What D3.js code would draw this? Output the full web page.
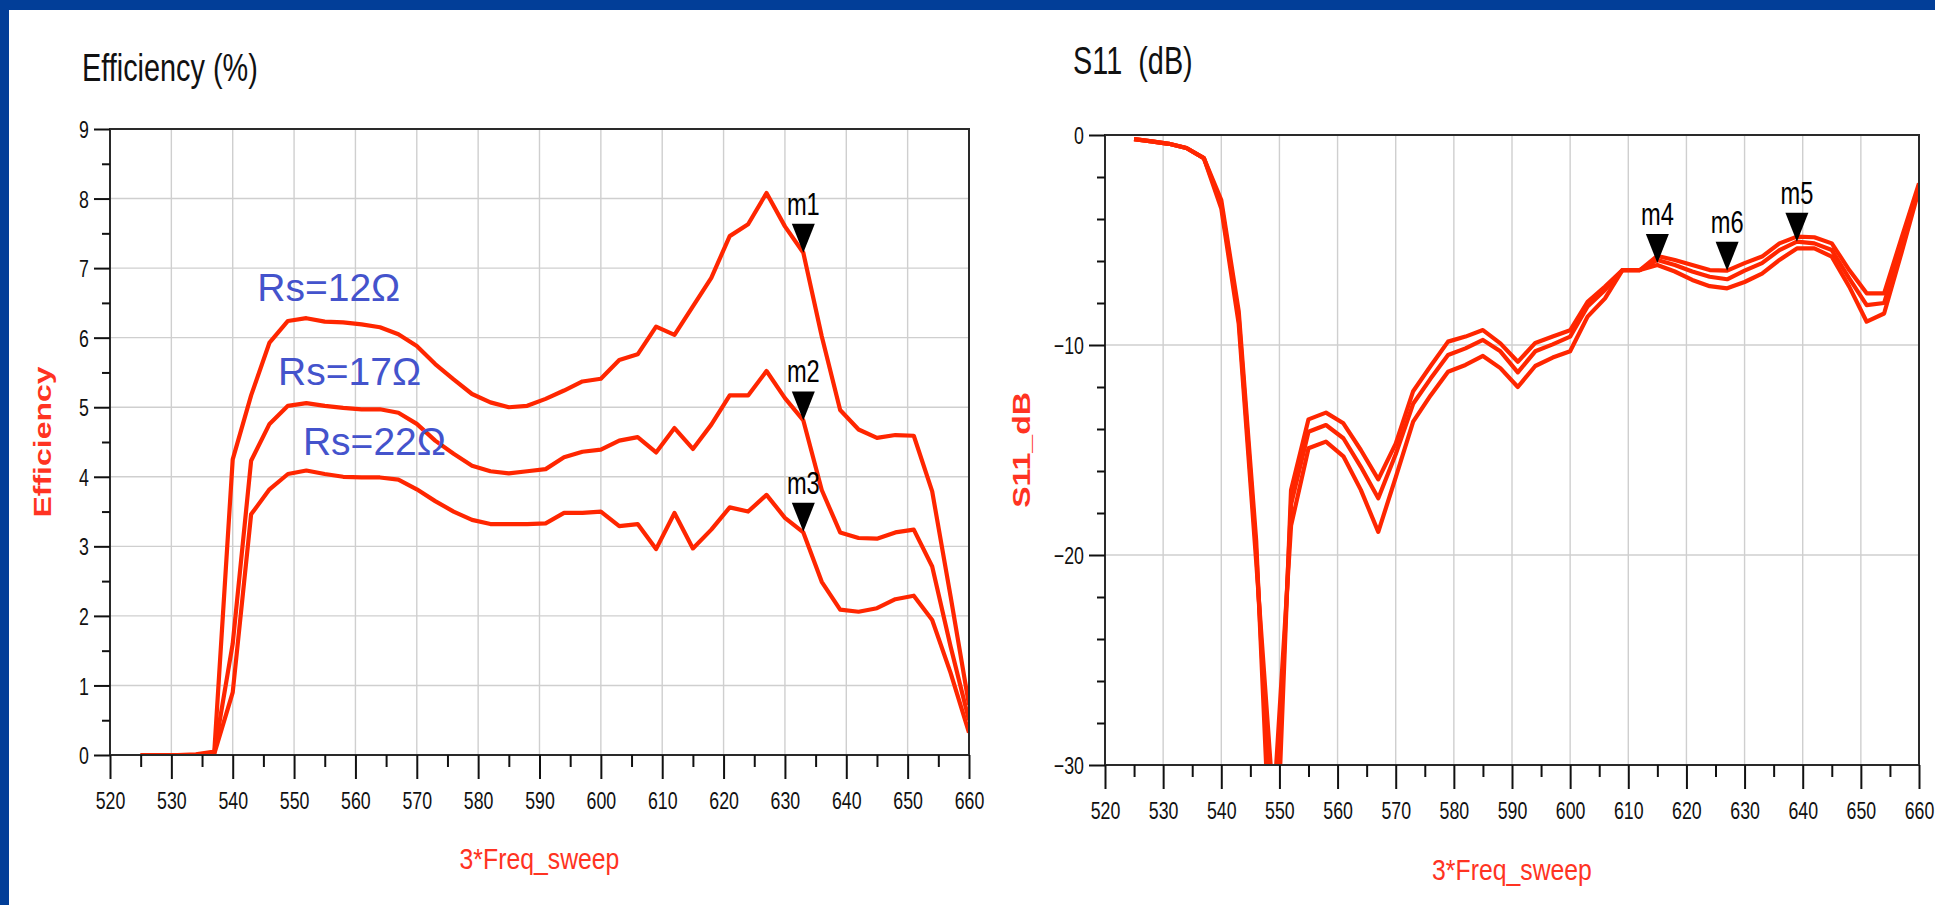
<!DOCTYPE html>
<html><head><meta charset="utf-8">
<script src="https://cdn.jsdelivr.net/npm/d3@7"></script>
<style>
html,body{margin:0;padding:0;background:#fff;overflow:hidden}
svg{display:block}
text{font-family:"Liberation Sans",Arial,Helvetica,sans-serif}
</style></head><body>
<svg id="c" width="1935" height="905"></svg>
<script>
// ---------- DATA ----------
const freqs = [525,528,531,534,537,540,543,546,549,552,555,558,561,564,567,570,573,576,579,582,585,588,591,594,597,600,603,606,609,612,615,618,621,624,627,630,633,636,639,642,645,648,651,654,657,660];

const effRs12 = [0,0,0,0.01,0.05, 4.25,5.17,5.93,6.24,6.28, 6.23,6.22,6.19,6.15,6.05, 5.88,5.62,5.40,5.19,5.07, 5.00,5.02,5.12,5.24,5.37, 5.41,5.68,5.76,6.16,6.04, 6.45,6.86,7.46,7.63,8.08, 7.60,7.22,6.02,4.96,4.68, 4.56,4.60,4.59,3.79,2.28, 0.72];
const effRs17 = [0,0,0,0,0.03, 1.6,4.23,4.76,5.02,5.06, 5.02,4.99,4.97,4.97,4.92, 4.76,4.52,4.33,4.16,4.08, 4.05,4.08,4.11,4.28,4.36, 4.39,4.52,4.57,4.35,4.70, 4.40,4.75,5.17,5.17,5.52, 5.13,4.81,3.81,3.20,3.12, 3.11,3.20,3.24,2.71,1.56, 0.5];
const effRs22 = [0,0,0,0,0.02, 0.9,3.46,3.82,4.04,4.09, 4.04,4.00,3.99,3.99,3.96, 3.82,3.65,3.50,3.38,3.32, 3.32,3.32,3.33,3.48,3.48, 3.50,3.29,3.32,2.96,3.48, 2.97,3.24,3.56,3.50,3.74, 3.41,3.20,2.49,2.09,2.06, 2.11,2.24,2.29,1.94,1.18, 0.32];

const s11A = [-0.2,-0.3,-0.42,-0.62,-1.1, -3.1,-8.4,-19.3,-38,-16.9, -13.54,-13.22,-13.73,-15.0,-16.4, -14.7,-12.2,-11.0,-9.84,-9.6, -9.29,-9.92,-10.8,-9.9,-9.6, -9.3,-7.94,-7.22,-6.43,-6.43, -5.76,-5.95,-6.19,-6.43,-6.46, -6.1,-5.79,-5.16,-4.84,-4.87, -5.16,-6.43,-7.54,-7.54,-4.9, -2.3];
const s11B = [-0.2,-0.3,-0.42,-0.62,-1.1, -3.3,-8.7,-19.8,-35,-17.6, -14.13,-13.81,-14.44,-15.8,-17.3, -15.2,-12.8,-11.6,-10.48,-10.16, -9.76,-10.3,-11.3,-10.3,-9.97, -9.6,-8.17,-7.38,-6.43,-6.43, -5.95,-6.19,-6.5,-6.75,-6.87, -6.46,-6.1,-5.48,-5.08,-5.16, -5.48,-6.83,-8.1,-8.0,-5.25, -2.45];
const s11C = [-0.2,-0.3,-0.42,-0.62,-1.1, -3.5,-9.0,-20.3,-32,-18.6, -14.92,-14.6,-15.3,-16.9,-18.9, -16.3,-13.65,-12.4,-11.27,-10.95, -10.52,-11.1,-12.0,-11.0,-10.6, -10.3,-8.65,-7.78,-6.43,-6.43, -6.19,-6.5,-6.9,-7.2,-7.3, -7.0,-6.6,-5.95,-5.4,-5.4, -5.79,-7.22,-8.89,-8.5,-5.6, -2.6];

const freqTicks = [520,530,540,550,560,570,580,590,600,610,620,630,640,650,660];
const freqMinorTicks = [525,535,545,555,565,575,585,595,605,615,625,635,645,655];
const effTicks = [0,1,2,3,4,5,6,7,8,9];
const effMinorTicks = [0.5,1.5,2.5,3.5,4.5,5.5,6.5,7.5,8.5];
const s11Ticks = [0,-10,-20,-30];
const s11MinorTicks = [-2,-4,-6,-8,-12,-14,-16,-18,-22,-24,-26,-28];

const effMarkers = [{name:"m1",f:633,v:7.22},{name:"m2",f:633,v:4.81},{name:"m3",f:633,v:3.21}];
const s11Markers = [{name:"m4",f:615,v:-6.1},{name:"m6",f:627,v:-6.47},{name:"m5",f:639,v:-5.08}];
const rsLabels = [{text:"Rs=12\u03A9",f:544,v:6.52},{text:"Rs=17\u03A9",f:547.4,v:5.32},{text:"Rs=22\u03A9",f:551.45,v:4.32}];

// ---------- STYLE ----------
const RED = "#ff2600", TITLE_RED = "#ff3322", BLUE_TXT = "#4453cc", FRAME_BLUE = "#023e98";
const SX = 0.74;

const svg = d3.select("#c");
svg.append("rect").attr("width",1935).attr("height",905).attr("fill","#fff");
svg.append("rect").attr("x",0).attr("y",0).attr("width",1935).attr("height",10).attr("fill",FRAME_BLUE);
svg.append("rect").attr("x",0).attr("y",0).attr("width",9).attr("height",905).attr("fill",FRAME_BLUE);

function ctext(g, x, y, str, size, anchor, sx, opts={}) {
  const t = g.append("text")
    .attr("transform", `translate(${x},${y}) scale(${sx},1)` + (opts.rot ? " rotate(-90)" : ""))
    .attr("text-anchor", anchor)
    .style("font-size", size + "px")
    .attr("fill", opts.fill || "#111")
    .text(str);
  if (opts.pre) t.style("white-space","pre");
  if (opts.bold) t.style("font-weight","bold");
  return t;
}

function panel(cfg) {
  const x = d3.scaleLinear().domain([520,660]).range([cfg.x0, cfg.x1]);
  const y = d3.scaleLinear().domain(cfg.yDomain).range([cfg.y1, cfg.y0]);
  const g = svg.append("g");
  const clipId = "clip" + cfg.id;
  svg.append("defs").append("clipPath").attr("id", clipId)
    .append("rect").attr("x",cfg.x0).attr("y",cfg.y0).attr("width",cfg.x1-cfg.x0).attr("height",cfg.y1-cfg.y0);

  // grid
  const grid = g.append("g").attr("stroke","#cfcfcf").attr("stroke-width",1.4);
  grid.selectAll(".vg").data(freqTicks.slice(1,-1)).join("line")
    .attr("x1",d=>x(d)).attr("x2",d=>x(d)).attr("y1",cfg.y0).attr("y2",cfg.y1);
  grid.selectAll(".hg").data(cfg.gridY).join("line")
    .attr("y1",d=>y(d)).attr("y2",d=>y(d)).attr("x1",cfg.x0).attr("x2",cfg.x1);

  // lines
  const line = d3.line().x((d,i)=>x(freqs[i])).y(d=>y(d));
  const lg = g.append("g").attr("clip-path",`url(#${clipId})`);
  cfg.series.forEach(s => {
    lg.append("path").datum(s).attr("d", line).attr("fill","none")
      .attr("stroke",RED).attr("stroke-width",4.2).attr("stroke-linejoin","round");
  });

  // frame
  g.append("rect").attr("x",cfg.x0).attr("y",cfg.y0).attr("width",cfg.x1-cfg.x0).attr("height",cfg.y1-cfg.y0)
    .attr("fill","none").attr("stroke","#2a2a2a").attr("stroke-width",2);

  // axes
  const xa = g.append("g").attr("transform",`translate(0,${cfg.y1})`)
    .call(d3.axisBottom(x).tickValues(freqTicks).tickSize(24).tickFormat(d3.format("d")));
  const xm = g.append("g").attr("transform",`translate(0,${cfg.y1})`)
    .call(d3.axisBottom(x).tickValues(freqMinorTicks).tickSize(12).tickFormat(""));
  const ya = g.append("g").attr("transform",`translate(${cfg.x0},0)`)
    .call(d3.axisLeft(y).tickValues(cfg.yTicks).tickSize(16).tickFormat(d3.format("d")));
  const ym = g.append("g").attr("transform",`translate(${cfg.x0},0)`)
    .call(d3.axisLeft(y).tickValues(cfg.yMinor).tickSize(8).tickFormat(""));
  [xa,xm,ya,ym].forEach(a => {
    a.select(".domain").remove();
    a.selectAll(".tick line").attr("stroke","#111").attr("stroke-width",2);
    a.selectAll("text").style("font-size","24px").style("font-family",'"Liberation Sans",Arial,sans-serif').attr("fill","#111");
  });
  xa.selectAll("text").attr("y",null).attr("dy",null)
    .attr("transform",`translate(0,${cfg.xLabOff}) scale(${SX},1)`).attr("text-anchor","middle");
  ya.selectAll("text").attr("x",null).attr("dy",null)
    .attr("transform",`translate(-21,8.6) scale(${SX},1)`).attr("text-anchor","end");

  // titles
  ctext(g, cfg.titleX, cfg.titleY, cfg.title, 39, "start", SX, {pre:true});
  ctext(g, cfg.yTitleX, (cfg.y0+cfg.y1)/2, cfg.yTitle, 32, "middle", SX, {rot:true, fill:TITLE_RED, bold:true});
  ctext(g, (cfg.x0+cfg.x1)/2, cfg.xTitleY, "3*Freq_sweep", 29, "middle", 0.855, {fill:TITLE_RED});

  // markers
  cfg.markers.forEach(m => {
    const px = x(m.f), py = y(m.v);
    g.append("path").attr("d", `M${px-11.5},${py-29}L${px+11.5},${py-29}L${px},${py}Z`).attr("fill","#000");
    ctext(g, px, py-38, m.name, 32, "middle", SX, {fill:"#000"});
  });
  return {x, y, g};
}

const left = panel({
  id:"L", x0:110, x1:969, y0:129, y1:755, yDomain:[0,9],
  gridY:[1,2,3,4,5,6,7,8], yTicks:effTicks, yMinor:effMinorTicks,
  series:[effRs12, effRs17, effRs22], markers:effMarkers,
  title:"Efficiency (%)", titleX:82, titleY:81,
  yTitle:"Efficiency", yTitleX:51, xTitleY:869, xLabOff:54
});
const right = panel({
  id:"R", x0:1105, x1:1919, y0:135, y1:765, yDomain:[-30,0],
  gridY:[-10,-20], yTicks:s11Ticks, yMinor:s11MinorTicks,
  series:[s11A, s11B, s11C], markers:s11Markers,
  title:"S11  (dB)", titleX:1073, titleY:74,
  yTitle:"S11_dB", yTitleX:1030, xTitleY:880, xLabOff:54
});

// Rs annotations (positioned in data coordinates)
rsLabels.forEach(r => {
  left.g.append("text").attr("x", left.x(r.f)).attr("y", left.y(r.v))
    .style("font-size","39px").attr("fill",BLUE_TXT).text(r.text);
});
</script>
</body></html>
